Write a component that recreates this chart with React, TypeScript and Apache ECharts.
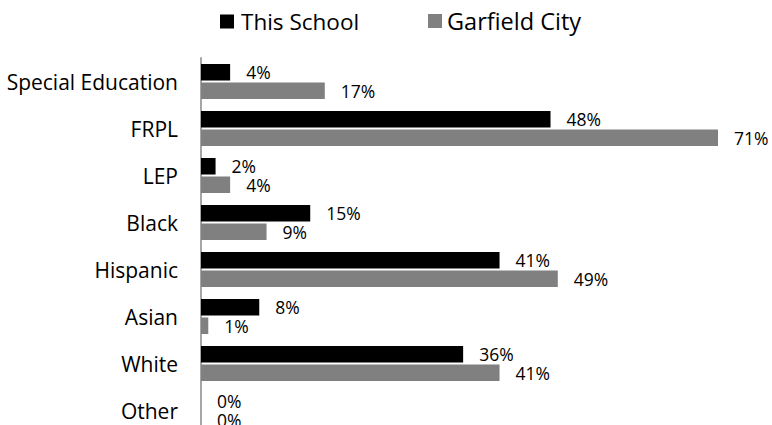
import React, { useEffect, useRef } from "react";
import * as echarts from "echarts";

const categories = [
  "Special Education",
  "FRPL",
  "LEP",
  "Black",
  "Hispanic",
  "Asian",
  "White",
  "Other",
];
const thisSchool = [4, 48, 2, 15, 41, 8, 36, 0];
const garfieldCity = [17, 71, 4, 9, 49, 1, 41, 0];
const seriesNames = ["This School", "Garfield City"];

const FONT = "'Open Sans', 'Noto Sans', sans-serif";

export default function App() {
  const ref = useRef<HTMLDivElement>(null);
  useEffect(() => {
    if (!ref.current) return;
    const chart = echarts.init(ref.current, null, { renderer: "svg" });
    const labelCfg = {
      show: true,
      position: "right",
      distance: 16,
      formatter: "{c}%",
      color: "#000",
      fontFamily: FONT,
      fontSize: 17.5,
    };
    const legendText = { fontFamily: FONT, fontSize: 22.5, color: "#000" };
    chart.setOption({
      animation: false,
      backgroundColor: "#fff",
      legend: [
        {
          data: [seriesNames[0]],
          left: 220,
          top: 10,
          padding: 0,
          icon: "rect",
          itemWidth: 14,
          itemHeight: 14,
          textStyle: { ...legendText, padding: [0, 0, 0, 2] },
        },
        {
          data: [seriesNames[1]],
          left: 428,
          top: 9,
          padding: 0,
          icon: "rect",
          itemWidth: 14,
          itemHeight: 14,
          textStyle: { ...legendText, fontSize: 23.5, padding: [0, 0, 0, 0] },
        },
      ],
      grid: { left: 201, top: 58, width: 517, height: 376, containLabel: false },
      xAxis: {
        type: "value",
        min: 0,
        max: "dataMax",
        show: false,
      },
      yAxis: {
        type: "category",
        data: categories,
        inverse: true,
        axisLine: { show: true, lineStyle: { color: "#a6a6a6", width: 2 } },
        axisTick: { show: false },
        axisLabel: { margin: 23, color: "#000", fontFamily: FONT, fontSize: 21 },
        splitLine: { show: false },
      },
      series: [
        {
          name: seriesNames[0],
          type: "bar",
          data: thisSchool,
          barWidth: 16.5,
          barGap: "12%",
          itemStyle: { color: "#000000" },
          label: labelCfg,
        },
        {
          name: seriesNames[1],
          type: "bar",
          data: garfieldCity,
          barWidth: 16.5,
          barGap: "12%",
          itemStyle: { color: "#808080" },
          label: labelCfg,
        },
      ],
    });
    return () => chart.dispose();
  }, []);
  return (
    <div
      ref={ref}
      style={{ position: "fixed", left: 0, top: 0, width: 772, height: 440 }}
    />
  );
}
